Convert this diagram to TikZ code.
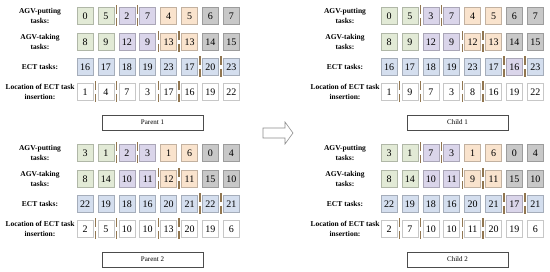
\documentclass[tikz,border=0pt]{standalone}
\usepackage{fontspec}
\setmainfont{Liberation Serif}
\usetikzlibrary{calc}
\definecolor{cg}{RGB}{226,234,214}
\definecolor{cp}{RGB}{218,213,234}
\definecolor{co}{RGB}{249,227,205}
\definecolor{cy}{RGB}{200,200,200}
\definecolor{cb}{RGB}{212,222,238}
\definecolor{cutc}{RGB}{145,118,80}
\newcommand\chromrow[5]{% block, row, x, y, values/colours
  \foreach \v/\c [count=\i] in {#5}
    \node[cell=\c] (#1-#2-\i) at ({#3+(\i-1)*20.9},#4) {\v};}
\begin{document}
\begin{tikzpicture}[x=1pt,y=-1pt,font=\fontsize{10}{10}\selectfont,
	cell/.style={fill=#1,draw=#1!78!black,line width=0.5pt,minimum width=16pt,minimum height=17pt,inner sep=0pt},
	lab/.style={font=\fontsize{7.5}{9.5}\selectfont\bfseries,align=center},
	title/.style={draw=black!70,line width=0.6pt,minimum width=101pt,minimum height=15pt,inner sep=0pt,font=\fontsize{7}{8}\selectfont},
	cut/.style={draw=cutc,line width=1.3pt,dash pattern=on 8.5pt off 4pt}]
	\useasboundingbox (0,0) rectangle (550,271);
	% parent 1
	\chromrow{p1}{1}{85}{16}{0/cg,5/cg,2/cp,7/cp,4/co,5/co,6/cy,7/cy}
	\chromrow{p1}{2}{85}{42}{8/cg,9/cg,12/cp,9/cp,13/co,13/co,14/cy,15/cy}
	\chromrow{p1}{3}{85}{67}{16/cb,17/cb,18/cb,19/cb,23/cb,17/cb,20/cb,23/cb}
	\chromrow{p1}{4}{85}{92}{1/white,4/white,7/white,3/white,17/white,16/white,19/white,22/white}
	% child 1
	\chromrow{c1}{1}{389}{16}{0/cg,5/cg,3/cp,7/cp,4/co,5/co,6/cy,7/cy}
	\chromrow{c1}{2}{389}{42}{8/cg,9/cg,12/cp,9/cp,12/co,13/co,14/cy,15/cy}
	\chromrow{c1}{3}{389}{67}{16/cb,17/cb,18/cb,19/cb,23/cb,17/cb,16/cp,23/cb}
	\chromrow{c1}{4}{389}{92}{1/white,9/white,7/white,3/white,8/white,16/white,19/white,22/white}
	% parent 2
	\chromrow{p2}{1}{85}{153}{3/cg,1/cg,2/cp,3/cp,1/co,6/co,0/cy,4/cy}
	\chromrow{p2}{2}{85}{179}{8/cg,14/cg,10/cp,11/cp,12/co,11/co,15/cy,10/cy}
	\chromrow{p2}{3}{85}{204}{22/cb,19/cb,18/cb,16/cb,20/cb,21/cb,22/cb,21/cb}
	\chromrow{p2}{4}{85}{229}{2/white,5/white,10/white,10/white,13/white,20/white,19/white,6/white}
	% child 2
	\chromrow{c2}{1}{389}{153}{3/cg,1/cg,7/cp,3/cp,1/co,6/co,0/cy,4/cy}
	\chromrow{c2}{2}{389}{179}{8/cg,14/cg,10/cp,11/cp,9/co,11/co,15/cy,10/cy}
	\chromrow{c2}{3}{389}{204}{22/cb,19/cb,18/cb,16/cb,20/cb,21/cb,17/cp,21/cb}
	\chromrow{c2}{4}{389}{229}{2/white,7/white,10/white,10/white,11/white,20/white,19/white,6/white}
	% row labels and titles
	\foreach \blk/\lx/\bx/\ty/\t in {p1/40/152.5/0/Parent 1,c1/345/457.5/0/Child 1,p2/40/152.5/137/Parent 2,c2/345/457.5/137/Child 2} {
		\node[lab] (\blk-l1) at (\lx,{16+\ty}) {AGV-putting\\tasks:};
		\node[lab] (\blk-l2) at (\lx,{42+\ty}) {AGV-taking\\tasks:};
		\node[lab] (\blk-l3) at (\lx,{67+\ty}) {ECT tasks:};
		\node[lab] (\blk-l4) at (\lx,{92+\ty}) {Location of ECT task\\insertion:};
		\node[title] (\blk-t) at (\bx,{122.5+\ty}) {\t};
	}
	% crossover cut points
	\foreach \blk in {p1,c1,p2,c2}
		\foreach \r/\a/\b in {1/2/3,1/3/4,2/4/5,2/5/6,3/6/7,3/7/8,4/1/2,4/2/3,4/4/5,4/5/6}
			\draw[cut] ($([yshift=2pt]\blk-\r-\a.north east)!.5!([yshift=2pt]\blk-\r-\b.north west)$) -- ($([yshift=-2pt]\blk-\r-\a.south east)!.5!([yshift=-2pt]\blk-\r-\b.south west)$);
	% hollow arrow
	\draw[draw=black!45,fill=white,line width=0.6pt] (263,128) -- (285,128) -- (285,122) -- (293,133) -- (285,144) -- (285,138) -- (263,138) -- cycle;
\end{tikzpicture}
\end{document}
